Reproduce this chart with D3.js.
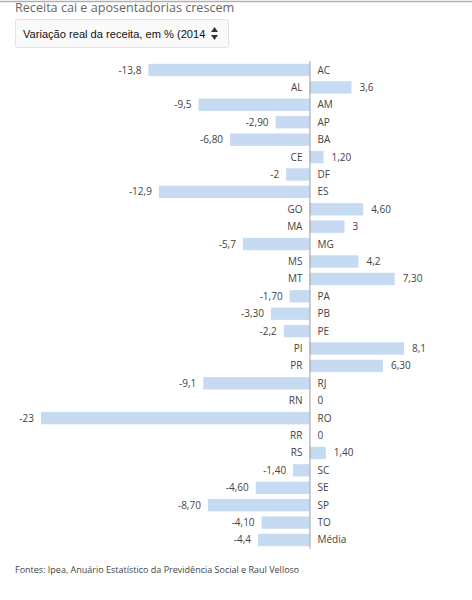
<!DOCTYPE html>
<html>
<head>
<meta charset="utf-8">
<script src="https://cdn.jsdelivr.net/npm/d3@7"></script>
<style>
  body { margin: 0; background: #fff; }
  svg { display: block; }
</style>
</head>
<body>
<script>
// data
const states = ["AC", "AL", "AM", "AP", "BA", "CE", "DF", "ES", "GO", "MA", "MG", "MS", "MT", "PA",
                "PB", "PE", "PI", "PR", "RJ", "RN", "RO", "RR", "RS", "SC", "SE", "SP", "TO", "Média"];
const values = [-13.8, 3.6, -9.5, -2.9, -6.8, 1.2, -2, -12.9, 4.6, 3, -5.7, 4.2, 7.3, -1.7,
                -3.3, -2.2, 8.1, 6.3, -9.1, 0, -23, 0, 1.4, -1.4, -4.6, -8.7, -4.1, -4.4];
const valueLabels = ["-13,8", "3,6", "-9,5", "-2,90", "-6,80", "1,20", "-2", "-12,9", "4,60", "3", "-5,7", "4,2", "7,30", "-1,70",
                     "-3,30", "-2,2", "8,1", "6,30", "-9,1", "0", "-23", "0", "1,40", "-1,40", "-4,60", "-8,70", "-4,10", "-4,4"];

const title = "Receita cai e aposentadorias crescem";
const selectText = "Variação real da receita, em % (2014";
const source = "Fontes: Ipea, Anuário Estatístico da Previdência Social e Raul Velloso";

const rows = states.map((s, i) => ({ name: s, value: values[i], label: valueLabels[i] }));

let width = 472, height = 600;

let svg = d3.select("body").append("svg")
    .attr("width", width)
    .attr("height", height);

// top rule
svg.append("line")
    .attr("x1", 0).attr("x2", width)
    .attr("y1", 1.5).attr("y2", 1.5)
    .attr("stroke", "#b0b0b0")
    .attr("stroke-width", 1.5);

svg.append("text")
    .attr("x", 15).attr("y", 12)
    .text(title)
    .attr("font-family", "Open Sans")
    .attr("font-size", "12.6px")
    .attr("fill", "#666");

// fake select box
svg.append("rect")
    .attr("x", 15.5).attr("y", 19.5)
    .attr("width", 213).attr("height", 28)
    .attr("rx", 2)
    .attr("fill", "#fafafa")
    .attr("stroke", "#e2e2e2");

svg.append("text")
    .attr("x", 23).attr("y", 38)
    .text(selectText)
    .attr("font-family", "Liberation Sans, Arial")
    .attr("font-size", "11.1px")
    .attr("fill", "#111");

svg.append("path")
    .attr("d", "M211,32 L214.5,27 L218,32 Z M211,35 L214.5,40 L218,35 Z")
    .attr("fill", "#333");

// scales
let x = d3.scaleLinear()
    .domain([-23, 8.1])
    .range([41, 404]);

let y = d3.scaleBand()
    .domain(states)
    .range([61.3, 548.7])
    .paddingInner(0.29)
    .paddingOuter(0.145);

let g = svg.append("g");

g.selectAll("rect.bar")
    .data(rows)
    .enter()
    .append("rect")
    .attr("class", "bar")
    .attr("x", d => x(Math.min(0, d.value)))
    .attr("y", d => y(d.name))
    .attr("width", d => Math.abs(x(d.value) - x(0)))
    .attr("height", y.bandwidth())
    .attr("fill", "#c6daf1");

// zero axis
svg.append("line")
    .attr("x1", x(0) + 0.5).attr("x2", x(0) + 0.5)
    .attr("y1", y.range()[0]).attr("y2", y.range()[1])
    .attr("stroke", "#9a9a9a")
    .attr("stroke-width", 1);

const mid = d => y(d.name) + y.bandwidth() / 2 + 3.5;

g.selectAll("text.cat")
    .data(rows)
    .enter()
    .append("text")
    .attr("class", "cat")
    .attr("x", d => d.value < 0 ? x(0) + 8 : x(0) - 7)
    .attr("y", mid)
    .attr("text-anchor", d => d.value < 0 ? "start" : "end")
    .text(d => d.name)
    .attr("font-family", "Open Sans")
    .attr("font-size", "10px")
    .attr("fill", "#444");

g.selectAll("text.val")
    .data(rows)
    .enter()
    .append("text")
    .attr("class", "val")
    .attr("x", d => d.value < 0 ? x(d.value) - 7 : x(d.value) + 8)
    .attr("y", mid)
    .attr("text-anchor", d => d.value < 0 ? "end" : "start")
    .text(d => d.label)
    .attr("font-family", "Open Sans")
    .attr("font-size", "10px")
    .attr("fill", "#444");

svg.append("text")
    .attr("x", 15).attr("y", 573)
    .text(source)
    .attr("font-family", "Open Sans")
    .attr("font-size", "9px")
    .attr("fill", "#444");
</script>
</body>
</html>
